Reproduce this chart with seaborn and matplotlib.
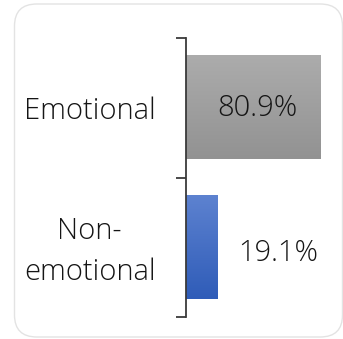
import numpy as np
import pandas as pd
import matplotlib
matplotlib.use("Agg")
import matplotlib.pyplot as plt
import matplotlib.transforms as mtransforms
from matplotlib.patches import FancyBboxPatch
from matplotlib.colors import LinearSegmentedColormap
import seaborn as sns

# Share of responses by type
categories = ["Emotional", "Non-\nemotional"]
shares = [80.9, 19.1]
value_labels = ["80.9%", "19.1%"]
bar_top_colors = ["#acacac", "#5d82d0"]
bar_bottom_colors = ["#929292", "#2f5cb8"]

sns.set_theme(style="white")
plt.rcParams["font.family"] = ["Open Sans", "DejaVu Sans"]

FS = 21
WT = "light"
TXT = "#151515"

df = pd.DataFrame({"category": categories, "share": shares})

fig = plt.figure(figsize=(3.43, 3.39), dpi=100)
fig.patch.set_facecolor("white")

# rounded card outline
card = FancyBboxPatch((14.5 / 343, 2 / 339), (342.5 - 14.5) / 343, (335 - 2) / 339,
                      boxstyle="round,pad=0,rounding_size=0.065",
                      transform=fig.transFigure, facecolor="white",
                      edgecolor="#e3e3e3", linewidth=1.0, zorder=-5)
fig.patches.append(card)

ax = fig.add_axes([186 / 343, 1 - 317 / 339, 150 / 343, (317 - 38) / 339])
ax.set_facecolor("none")
ax.set_zorder(2)

sns.barplot(data=df, x="share", y="category", orient="h", width=0.74,
            color="#999999", ax=ax, saturation=1)

# vertical gradient fill on each bar
for patch, top, bottom in zip(ax.patches, bar_top_colors, bar_bottom_colors):
    x0, y0 = patch.get_x(), patch.get_y()
    w, h = patch.get_width(), patch.get_height()
    cmap = LinearSegmentedColormap.from_list("g", [top, bottom])
    grad = np.linspace(0, 1, 128).reshape(-1, 1)
    ax.imshow(grad, cmap=cmap, aspect="auto", extent=(x0, x0 + w, y0 + h, y0),
              zorder=patch.get_zorder() + 0.1, interpolation="bilinear")
    patch.set_visible(False)
ax.set_xlim(0, 90.5)
ax.set_ylim(1.5, -0.5)

# value labels: inside the long bar, beside the short one
for i, (v, lab) in enumerate(zip(shares, value_labels)):
    if v > 50:
        ax.text(v / 2 + 2.5, i, lab, ha="center", va="center",
                fontsize=FS, color=TXT, fontweight=WT)
    else:
        ax.annotate(lab, (v, i + 0.04), xytext=(14.5, 0), textcoords="offset points",
                    ha="left", va="center", fontsize=FS, color=TXT, fontweight=WT)

for s in ["top", "right", "bottom"]:
    ax.spines[s].set_visible(False)
ax.spines["left"].set_color("#3a3a3a")
ax.spines["left"].set_linewidth(1.3)

ax.set_xticks([])
ax.set_xlabel("")
ax.set_ylabel("")
ax.set_yticks(range(len(categories)))
ax.set_yticklabels(categories, fontsize=FS, color=TXT, multialignment="center",
                   fontweight=WT, linespacing=1.5)
ax.tick_params(axis="y", which="major", length=0, pad=22)
ax.set_yticks([-0.5, 0.5, 1.5], minor=True)
ax.tick_params(axis="y", which="minor", length=7, width=1.3, color="#3a3a3a", left=True)

# nudge the two-line label up so it sits centred on its bar
for lbl in ax.get_yticklabels():
    if "\n" in lbl.get_text():
        lbl.set_transform(lbl.get_transform() +
                          mtransforms.ScaledTranslation(0, 5 / 100, fig.dpi_scale_trans))

fig.savefig("out.png", dpi=100)
